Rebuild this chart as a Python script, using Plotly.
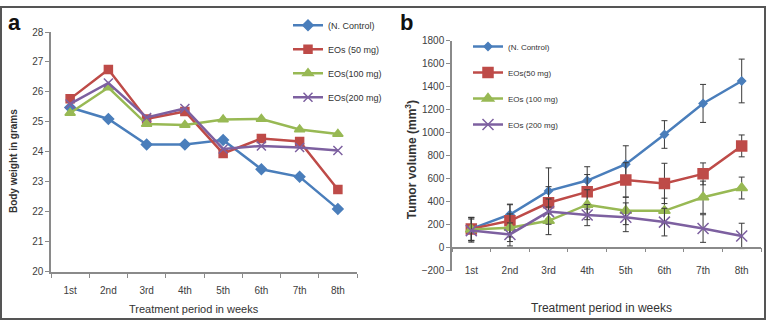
import plotly.graph_objects as go

weeks = ["1st", "2nd", "3rd", "4th", "5th", "6th", "7th", "8th"]

# Panel a: body weight (g)
bw_control = [25.48, 25.1, 24.25, 24.25, 24.4, 23.42, 23.17, 22.1]
bw_eo50 = [25.77, 26.75, 25.1, 25.35, 23.95, 24.45, 24.35, 22.75]
bw_eo100 = [25.3, 26.15, 24.93, 24.9, 25.08, 25.1, 24.75, 24.6]
bw_eo200 = [25.6, 26.3, 25.15, 25.45, 24.1, 24.2, 24.15, 24.05]

# Panel b: tumor volume (mm^3) with error bars
tv_control = [165, 290, 495, 585, 727, 985, 1255, 1450]
tv_control_err = [100, 90, 200, 120, 160, 120, 165, 190]
tv_eo50 = [165, 235, 392, 487, 590, 560, 643, 886]
tv_eo50_err = [100, 140, 140, 150, 150, 175, 95, 95]
tv_eo100 = [160, 175, 235, 375, 322, 322, 440, 520]
tv_eo100_err = [100, 120, 120, 130, 120, 110, 140, 95]
tv_eo200 = [150, 117, 315, 285, 266, 224, 168, 104]
tv_eo200_err = [100, 100, 110, 92, 125, 120, 120, 110]

names_a = ["(N. Control)", "EOs (50 mg)", "EOs(100 mg)", "EOs(200 mg)"]
names_b = ["(N. Control)", "EOs(50 mg)", "EOs (100 mg)", "EOs (200 mg)"]

colors = ["#4A7EBB", "#BE4B48", "#98B954", "#7D60A0"]
symbols = ["diamond", "square", "triangle-up", "x-thin"]
sizes_a = [8, 8, 9, 9]
sizes_b = [6, 10, 10, 11]

FONT = "Liberation Sans Narrow, Arial Narrow, Liberation Sans, sans-serif"
W, H = 768, 327


def px_x(x):
    return x / W


def px_y(y):
    return 1 - y / H


fig = go.Figure()

for i, ys in enumerate([bw_control, bw_eo50, bw_eo100, bw_eo200]):
    fig.add_trace(go.Scatter(
        x=weeks, y=ys, name=names_a[i], mode="lines+markers",
        line=dict(color=colors[i], width=2.5),
        marker=dict(symbol=symbols[i], size=sizes_a[i], color=colors[i],
                    line=dict(color=colors[i], width=1.5)),
        xaxis="x", yaxis="y", legend="legend", legendgroup=f"a{i}",
    ))

for i, (ys, es) in enumerate([(tv_control, tv_control_err), (tv_eo50, tv_eo50_err),
                              (tv_eo100, tv_eo100_err), (tv_eo200, tv_eo200_err)]):
    fig.add_trace(go.Scatter(
        x=weeks, y=ys, name=names_b[i], mode="lines+markers",
        line=dict(color=colors[i], width=2.5),
        marker=dict(symbol=symbols[i], size=sizes_b[i], color=colors[i],
                    line=dict(color=colors[i], width=1.5)),
        error_y=dict(type="data", array=es, visible=True, color="#3a3a3a",
                     thickness=1, width=3),
        xaxis="x2", yaxis="y2", legend="legend2", legendgroup=f"b{i}",
    ))

axis_line = "#8a8a8a"
tick_font = dict(family=FONT, size=10, color="#404040")


def note(text, x, y, size, angle=0, bold_font=FONT):
    return dict(text=text, x=px_x(x), y=px_y(y), xref="paper", yref="paper",
                showarrow=False, textangle=angle, xanchor="center", yanchor="middle",
                font=dict(family=bold_font, size=size, color="#333333"))


fig.update_layout(
    width=W, height=H,
    margin=dict(l=0, r=0, t=0, b=0),
    paper_bgcolor="white", plot_bgcolor="white",
    font=dict(family=FONT, color="#333333"),
    showlegend=True,
    xaxis=dict(
        domain=[px_x(51), px_x(357)], anchor="y", type="category",
        range=[-0.5, 7.5], showgrid=False, zeroline=False,
        showline=True, linecolor=axis_line, linewidth=1.5,
        ticks="outside", tickson="boundaries", ticklen=4, tickcolor=axis_line,
        tickfont=tick_font, ticklabelstandoff=8,
    ),
    yaxis=dict(
        domain=[px_y(276), px_y(27)], anchor="x", range=[20, 28], dtick=1,
        showgrid=False, zeroline=False,
        showline=True, linecolor=axis_line, linewidth=1.5,
        ticks="outside", ticklen=4, tickcolor=axis_line, tickfont=tick_font,
    ),
    xaxis2=dict(
        domain=[px_x(452), px_x(761)], anchor="free", position=px_y(250.7),
        type="category", range=[-0.5, 7.5], showgrid=False, zeroline=False,
        showline=True, linecolor=axis_line, linewidth=1.5,
        ticks="outside", tickson="boundaries", ticklen=4, tickcolor=axis_line,
        tickfont=tick_font, ticklabelstandoff=14,
    ),
    yaxis2=dict(
        domain=[px_y(275), px_y(36)], anchor="x2", range=[-200, 1800], dtick=200,
        showgrid=False, zeroline=False,
        showline=True, linecolor=axis_line, linewidth=1.5,
        ticks="outside", ticklen=4, tickcolor=axis_line, tickfont=tick_font,
    ),
    legend=dict(
        x=px_x(288), y=px_y(5), xanchor="left", yanchor="top",
        bgcolor="rgba(0,0,0,0)", font=dict(family=FONT, size=9, color="#333333"),
        traceorder="grouped", tracegroupgap=5, itemwidth=30,
    ),
    legend2=dict(
        x=px_x(468), y=px_y(27), xanchor="left", yanchor="top",
        bgcolor="rgba(0,0,0,0)", font=dict(family=FONT, size=8, color="#333333"),
        traceorder="grouped", tracegroupgap=7, itemwidth=30,
    ),
    annotations=[
        dict(text="<b>a</b>", x=px_x(6), y=px_y(17), xref="paper", yref="paper",
             showarrow=False, xanchor="left", yanchor="middle",
             font=dict(family="Liberation Sans, Arial", size=22, color="#111111")),
        dict(text="<b>b</b>", x=px_x(398), y=px_y(17), xref="paper", yref="paper",
             showarrow=False, xanchor="left", yanchor="middle",
             font=dict(family="Liberation Sans, Arial", size=22, color="#111111")),
        note("<b>Body weight in grams</b>", 13, 161, 10, angle=-90),
        note("<b>Tumor volume (mm<sup>3</sup>)</b>", 411, 160, 12, angle=-90),
        note("Treatment period in weeks", 194, 315, 11),
        note("Treatment period in weeks", 601, 314, 12),
    ],
    shapes=[
        dict(type="rect", xref="paper", yref="paper", x0=px_x(1), x1=px_x(765),
             y0=px_y(325), y1=px_y(1), line=dict(color="#555555", width=2)),
    ],
)

fig.write_html("out.html")
